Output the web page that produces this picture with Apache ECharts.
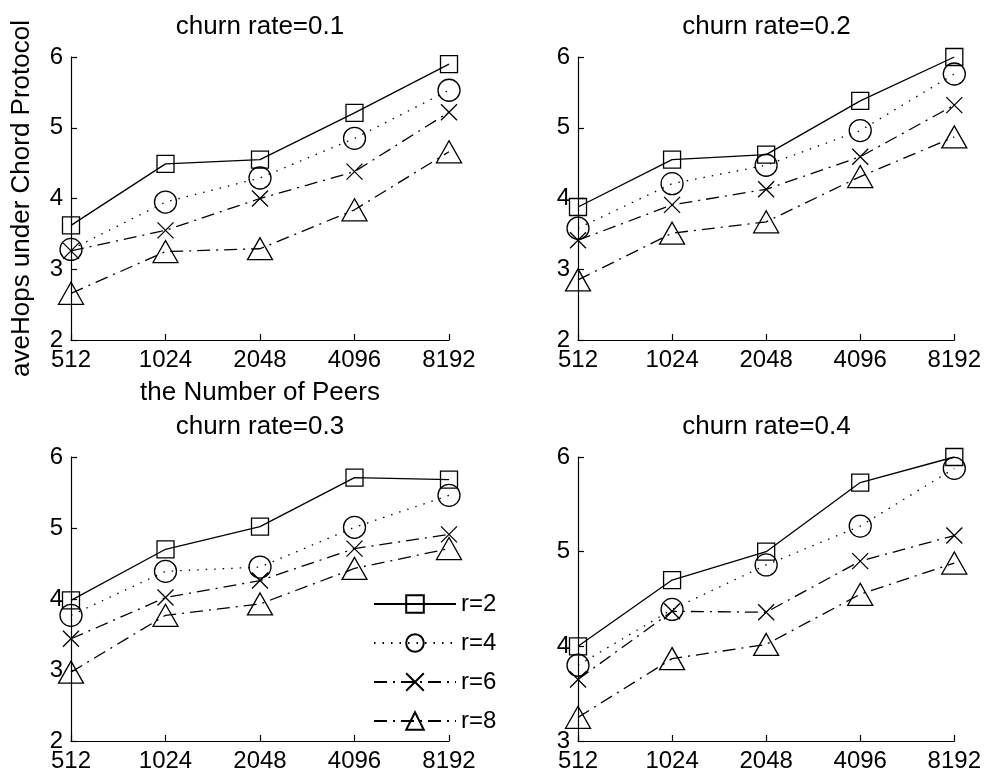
<!DOCTYPE html>
<html>
<head>
<meta charset="utf-8">
<script src="https://cdn.jsdelivr.net/npm/echarts@6/dist/echarts.min.js"></script>
<style>html,body{margin:0;padding:0;background:#fff;}#c{width:984px;height:775px;}</style>
</head>
<body>
<div id="c"></div>
<script>
const categories = ['512', '1024', '2048', '4096', '8192'];
const seriesNames = ['r=2', 'r=4', 'r=6', 'r=8'];
const panelTitles = ['churn rate=0.1', 'churn rate=0.2', 'churn rate=0.3', 'churn rate=0.4'];
const yMins = [2, 2, 2, 3];
const yMaxs = [6, 6, 6, 6];
const yTicks = [[2,3,4,5,6],[2,3,4,5,6],[2,3,4,5,6],[3,4,5,6]];

// churn rate = 0.1
const c1_r2 = [3.62, 4.49, 4.55, 5.21, 5.90];
const c1_r4 = [3.28, 3.95, 4.29, 4.85, 5.53];
const c1_r6 = [3.26, 3.55, 4.00, 4.38, 5.22];
const c1_r8 = [2.66, 3.25, 3.29, 3.84, 4.66];
// churn rate = 0.2
const c2_r2 = [3.88, 4.55, 4.62, 5.38, 6.00];
const c2_r4 = [3.58, 4.21, 4.47, 4.96, 5.76];
const c2_r6 = [3.41, 3.91, 4.13, 4.59, 5.32];
const c2_r8 = [2.85, 3.51, 3.67, 4.31, 4.87];
// churn rate = 0.3
const c3_r2 = [3.98, 4.70, 5.02, 5.71, 5.68];
const c3_r4 = [3.77, 4.39, 4.45, 5.01, 5.46];
const c3_r6 = [3.44, 4.02, 4.26, 4.71, 4.91];
const c3_r8 = [2.97, 3.77, 3.93, 4.43, 4.71];
// churn rate = 0.4
const c4_r2 = [4.00, 4.70, 5.00, 5.73, 6.00];
const c4_r4 = [3.80, 4.39, 4.86, 5.27, 5.88];
const c4_r6 = [3.65, 4.37, 4.36, 4.90, 5.17];
const c4_r8 = [3.25, 3.87, 4.02, 4.55, 4.88];

const panels = [
  [c1_r2, c1_r4, c1_r6, c1_r8],
  [c2_r2, c2_r4, c2_r6, c2_r8],
  [c3_r2, c3_r4, c3_r6, c3_r8],
  [c4_r2, c4_r4, c4_r6, c4_r8]
];

const FONT = '"Liberation Sans", Arial, Helvetica, sans-serif';
const gridPos = [
  {left: 71, top: 57, width: 378, height: 283},
  {left: 578, top: 57, width: 377, height: 283},
  {left: 71, top: 457, width: 378, height: 284},
  {left: 578, top: 457, width: 377, height: 284}
];
const titleY = [14, 14, 414, 414];

const styles = [
  {symbol: 'rect', size: 17, type: 'solid'},
  {symbol: 'circle', size: 22, type: [1.5, 7]},
  {symbol: 'path://M0,0L10,10M10,0L0,10', size: 16, type: [13, 6, 2, 6]},
  {symbol: 'triangle', size: [25, 22], type: [13, 6, 2, 6]}
];

const grids = [], xAxes = [], yAxes = [], series = [], titles = [];
gridPos.forEach((g, i) => {
  grids.push(Object.assign({containLabel: false}, g));
  titles.push({
    text: panelTitles[i],
    left: g.left + g.width / 2,
    top: titleY[i],
    textAlign: 'center',
    padding: 0,
    textStyle: {fontFamily: FONT, fontSize: 26, fontWeight: 'normal', color: '#000'}
  });
  xAxes.push({
    gridIndex: i,
    type: 'category',
    data: categories,
    boundaryGap: false,
    axisLine: {lineStyle: {color: '#000', width: 1.2}},
    axisTick: {inside: true, length: 6, lineStyle: {color: '#000', width: 1.2}},
    axisLabel: {color: '#000', fontFamily: FONT, fontSize: 24, margin: 8},
    splitLine: {show: false},
    name: i === 0 ? 'the Number of Peers' : '',
    nameLocation: 'middle',
    nameGap: 40,
    nameTextStyle: {color: '#000', fontFamily: FONT, fontSize: 26}
  });
  yAxes.push({
    gridIndex: i,
    type: 'value',
    min: yMins[i],
    max: yMaxs[i],
    interval: 1,
    axisLine: {show: true, lineStyle: {color: '#000', width: 1.2}},
    axisTick: {show: true, inside: true, length: 6, lineStyle: {color: '#000', width: 1.2}},
    axisLabel: {color: '#000', fontFamily: FONT, fontSize: 24, margin: 8},
    splitLine: {show: false},
    name: i === 0 ? 'aveHops under Chord Protocol' : '',
    nameLocation: 'middle',
    nameGap: 36,
    nameTextStyle: {color: '#000', fontFamily: FONT, fontSize: 26}
  });
  panels[i].forEach((vals, k) => {
    const s = styles[k];
    series.push({
      name: seriesNames[k],
      type: 'line',
      xAxisIndex: i,
      yAxisIndex: i,
      data: vals,
      symbol: s.symbol,
      symbolSize: s.size,
      showAllSymbol: true,
      lineStyle: {color: '#000', width: 1.3, type: s.type},
      itemStyle: {color: 'rgba(0,0,0,0)', borderColor: '#000', borderWidth: 1.3},
      emphasis: {disabled: true},
      animation: false,
      z: 2
    });
  });
});

const chart = echarts.init(document.getElementById('c'), null, {renderer: 'canvas'});
chart.setOption({
  backgroundColor: '#fff',
  animation: false,
  title: titles,
  grid: grids,
  xAxis: xAxes,
  yAxis: yAxes,
  legend: {
    data: seriesNames,
    orient: 'vertical',
    left: 373,
    top: 592,
    padding: 0,
    itemWidth: 82,
    itemHeight: 22,
    itemGap: 15,
    textStyle: {color: '#000', fontFamily: FONT, fontSize: 24, lineHeight: 22},
    selectedMode: false
  },
  series: series
});
</script>
</body>
</html>
